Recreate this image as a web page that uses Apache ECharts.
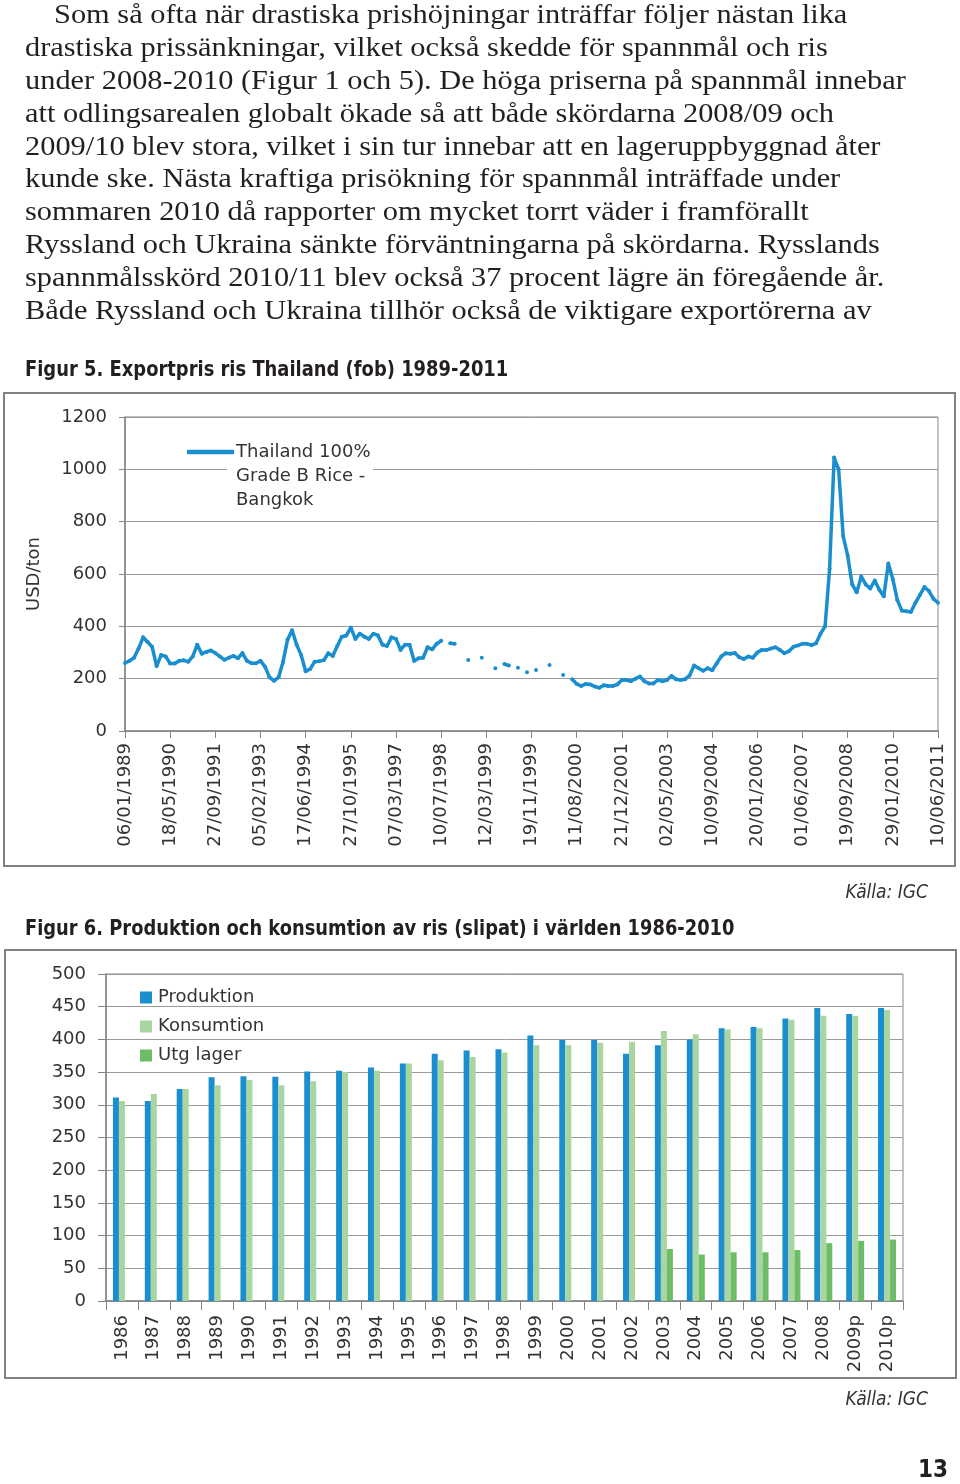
<!DOCTYPE html>
<html><head><meta charset="utf-8">
<script src="https://cdn.jsdelivr.net/npm/echarts@6/dist/echarts.min.js"></script>
<style>html,body{margin:0;padding:0;background:#fff;}#c{width:960px;height:1484px;}</style>
</head><body><div id="c"></div>
<script>
const paragraphLines = [
  'Som så ofta när drastiska prishöjningar inträffar följer nästan lika',
  'drastiska prissänkningar, vilket också skedde för spannmål och ris',
  'under 2008-2010 (Figur 1 och 5). De höga priserna på spannmål innebar',
  'att odlingsarealen globalt ökade så att både skördarna 2008/09 och',
  '2009/10 blev stora, vilket i sin tur innebar att en lageruppbyggnad åter',
  'kunde ske. Nästa kraftiga prisökning för spannmål inträffade under',
  'sommaren 2010 då rapporter om mycket torrt väder i framförallt',
  'Ryssland och Ukraina sänkte förväntningarna på skördarna. Rysslands',
  'spannmålsskörd 2010/11 blev också 37 procent lägre än föregående år.',
  'Både Ryssland och Ukraina tillhör också de viktigare exportörerna av'
];
const fig5Title = 'Figur 5. Exportpris ris Thailand (fob) 1989-2011';
const fig6Title = 'Figur 6. Produktion och konsumtion av ris (slipat) i världen 1986-2010';
const sourceText = 'Källa: IGC';
const pageNumber = '13';

// Figure 5
const priceSeriesName = 'Thailand 100% Grade B Rice - Bangkok';
const priceLegendLines = ['Thailand 100%', 'Grade B Rice -', 'Bangkok'];
const priceAxisName = 'USD/ton';
const priceTickLabels = ['06/01/1989','18/05/1990','27/09/1991','05/02/1993','17/06/1994','27/10/1995','07/03/1997','10/07/1998','12/03/1999','19/11/1999','11/08/2000','21/12/2001','02/05/2003','10/09/2004','20/01/2006','01/06/2007','19/09/2008','29/01/2010','10/06/2011'];
const pointsPerTick = 10;
const priceValues = [
  260,268,280,315,358,340,322,248,290,285,
  258,258,268,270,265,285,330,295,302,308,
  298,285,272,280,287,278,298,268,259,259,
  268,246,205,192,205,265,350,385,330,290,
  228,237,265,267,270,297,287,325,360,365,
  395,352,372,360,352,372,365,330,325,358,
  352,310,330,330,268,278,280,320,312,333,
  345,null,335,333,null,null,271,null,null,280,
  null,null,240,null,256,250,null,242,null,225,
  null,233,null,null,252,null,null,214,null,198,
  180,172,180,178,170,165,175,172,172,178,
  195,195,190,200,208,190,182,182,195,190,
  195,210,198,195,198,212,250,240,230,240,
  232,258,285,297,295,298,282,275,285,280,
  300,310,310,315,320,310,297,305,322,327,
  333,333,328,335,372,400,620,1045,1000,745,
  670,560,530,590,560,545,575,540,515,640,
  580,500,460,458,455,490,520,550,535,505,
  490
];

// Figure 6
const years = ['1986','1987','1988','1989','1990','1991','1992','1993','1994','1995','1996','1997','1998','1999','2000','2001','2002','2003','2004','2005','2006','2007','2008','2009p','2010p'];
const produktion = [311,306,324,342,343.5,343,351,352,357,363,378,383,385,406,399,399,378,391,400,417,419,432,448,439,448];
const konsumtion = [306,316.5,324,330,338,330,336,350,352,363,368,373,380,391,391,395,396.5,413,408,415,417,430,436,436,445];
const utgLager = [null,null,null,null,null,null,null,null,null,null,null,null,null,null,null,null,null,79.5,71,74.5,74.5,78,88.5,92,94];

const AX = "'DejaVu Sans', sans-serif";
const NARROW = "'Liberation Sans Narrow', 'DejaVu Sans Condensed', 'Liberation Sans', sans-serif";
const SERIF = "'Liberation Serif', 'DejaVu Serif', serif";
const BLUE = '#1a8ecf';
const LGREEN = '#a9d5a0';
const GREEN = '#6cbd66';
const GRID = '#9a9a9a';
const AXC = '#858585';
const LBL = '#333333';

function txt(text, x, y, font, opts) {
  opts = opts || {};
  const align = opts.align || 'left';
  return { type: 'text', x: x, y: y, z: 10, scaleX: opts.scaleX || 1,
    style: { text: text, font: font, fill: opts.fill || '#231f20',
      align: align, verticalAlign: 'middle', textAlign: align, textVerticalAlign: 'middle' } };
}

const graphics = [];
paragraphLines.forEach((l, i) => {
  graphics.push(txt(l, i === 0 ? 54 : 25, 16 + i * 32.8, '28px ' + SERIF, {scaleX: 1.085}));
});
graphics.push(txt(fig5Title, 25, 370, 'bold 22px ' + NARROW, {scaleX: 0.905}));
graphics.push(txt(fig6Title, 25, 929, 'bold 22px ' + NARROW, {scaleX: 0.902}));
graphics.push(txt(sourceText, 928, 893, 'italic 19px ' + NARROW, {align: 'right', fill: '#333'}));
graphics.push(txt(sourceText, 928, 1400, 'italic 19px ' + NARROW, {align: 'right', fill: '#333'}));
graphics.push(txt(pageNumber, 948, 1471, 'bold 24px ' + NARROW, {align: 'right'}));
graphics.push({ type: 'rect', z: 1, shape: {x: 4, y: 393, width: 951, height: 473}, style: {fill: 'none', stroke: '#808080', lineWidth: 2} });
graphics.push({ type: 'rect', z: 1, shape: {x: 5, y: 950, width: 951, height: 428}, style: {fill: 'none', stroke: '#808080', lineWidth: 2} });
// legend for figure 5
graphics.push({ type: 'rect', z: 5, shape: {x: 227, y: 440, width: 146, height: 72}, style: {fill: '#fff'} });
graphics.push({ type: 'line', z: 6, shape: {x1: 187, y1: 452, x2: 234, y2: 452}, style: {stroke: BLUE, lineWidth: 4.5} });
priceLegendLines.forEach((l, i) => {
  graphics.push(txt(l, 236, 452 + i * 24, '18px ' + AX, {fill: LBL}));
});

const plain = v => String(v);

const chart = echarts.init(document.getElementById('c'), null, {renderer: 'canvas'});
chart.setOption({
  animation: false,
  backgroundColor: '#fff',
  textStyle: {fontFamily: AX},
  grid: [
    {left: 125, top: 417, width: 813, height: 314, show: true, borderColor: AXC, borderWidth: 1, backgroundColor: 'transparent'},
    {left: 106, top: 974, width: 797, height: 327, show: true, borderColor: AXC, borderWidth: 1, backgroundColor: 'transparent'}
  ],
  legend: {
    data: ['Produktion', 'Konsumtion', 'Utg lager'],
    orient: 'vertical', left: 140, top: 987, itemWidth: 12, itemHeight: 12, itemGap: 8, padding: 0,
    icon: 'rect', selectedMode: false,
    textStyle: {fontSize: 18, fontFamily: AX, color: LBL, lineHeight: 21, height: 21, padding: [0, 0, 0, 1]}
  },
  xAxis: [
    {type: 'value', gridIndex: 0, min: 0, max: (priceTickLabels.length - 1) * pointsPerTick, interval: pointsPerTick,
      axisLine: {show: true, lineStyle: {color: AXC, width: 1.5}}, axisTick: {show: true, length: 7, lineStyle: {color: AXC}},
      splitLine: {show: false},
      axisLabel: {rotate: 90, margin: 12, fontSize: 18, fontFamily: AX, color: LBL,
        formatter: v => priceTickLabels[Math.round(v / pointsPerTick)] || ''}},
    {type: 'category', gridIndex: 1, data: years,
      axisLine: {show: true, lineStyle: {color: AXC, width: 1.5}}, axisTick: {show: true, length: 9, interval: 0, lineStyle: {color: AXC}},
      axisLabel: {rotate: 90, interval: 0, margin: 14, fontSize: 18, fontFamily: AX, color: LBL}}
  ],
  yAxis: [
    {type: 'value', gridIndex: 0, min: 0, max: 1200, interval: 200,
      name: priceAxisName, nameLocation: 'middle', nameGap: 82, nameTextStyle: {fontSize: 18, fontFamily: AX, color: LBL},
      axisLine: {show: true, lineStyle: {color: AXC, width: 1.5}}, axisTick: {show: true, length: 6, lineStyle: {color: AXC}},
      splitLine: {show: true, lineStyle: {color: GRID, width: 1}},
      axisLabel: {margin: 18, fontSize: 18, fontFamily: AX, color: LBL, formatter: plain}},
    {type: 'value', gridIndex: 1, min: 0, max: 500, interval: 50,
      axisLine: {show: true, lineStyle: {color: AXC, width: 1.5}}, axisTick: {show: true, length: 8, lineStyle: {color: AXC}},
      splitLine: {show: true, lineStyle: {color: GRID, width: 1}},
      axisLabel: {margin: 20, fontSize: 18, fontFamily: AX, color: LBL, formatter: plain}}
  ],
  series: [
    {name: priceSeriesName, type: 'line', xAxisIndex: 0, yAxisIndex: 0,
      data: priceValues.map((v, i) => [i, v === null ? '-' : v]),
      showSymbol: true, symbol: 'circle', symbolSize: 4, itemStyle: {color: BLUE},
      lineStyle: {color: BLUE, width: 3.5, join: 'round'}, connectNulls: false, z: 3},
    {name: 'Produktion', type: 'bar', xAxisIndex: 1, yAxisIndex: 1, data: produktion,
      barWidth: 6, barGap: '0%', itemStyle: {color: BLUE}},
    {name: 'Konsumtion', type: 'bar', xAxisIndex: 1, yAxisIndex: 1, data: konsumtion,
      barWidth: 6, barGap: '0%', itemStyle: {color: LGREEN}},
    {name: 'Utg lager', type: 'bar', xAxisIndex: 1, yAxisIndex: 1, data: utgLager.map(v => v === null ? '-' : v),
      barWidth: 6, barGap: '0%', itemStyle: {color: GREEN}}
  ],
  graphic: graphics
});
</script></body></html>
